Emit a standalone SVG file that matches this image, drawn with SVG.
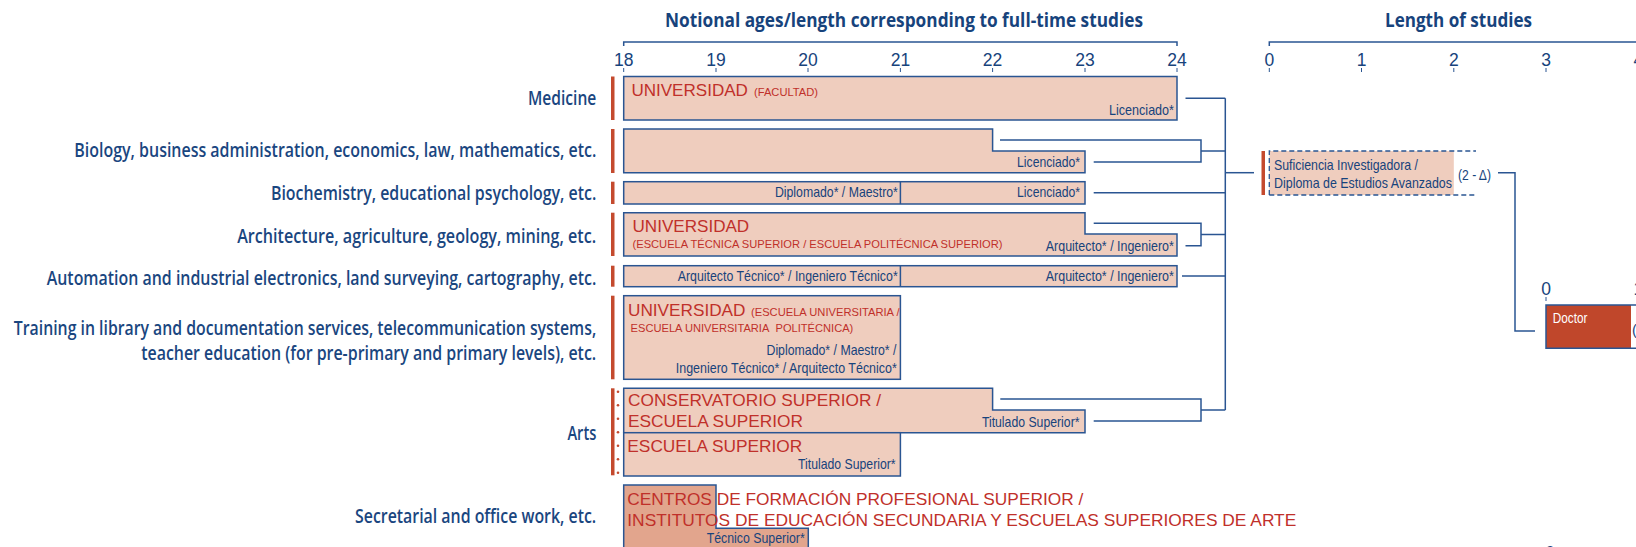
<svg xmlns="http://www.w3.org/2000/svg" width="1636" height="547" viewBox="0 0 1636 547">
<style>
.title{font-family:"Open Sans","Liberation Sans",sans-serif;font-weight:bold;font-size:19.5px;fill:#17437c}
.lbl{font-family:"Open Sans","Liberation Sans",sans-serif;font-weight:600;font-size:19px;fill:#1a4680}
.num{font-family:"Liberation Sans",Arial,sans-serif;font-size:17.5px;fill:#17437c;text-anchor:middle}
.red{font-family:"Liberation Sans",Arial,sans-serif;font-size:17.3px;fill:#c0302a}
.reds{font-family:"Liberation Sans",Arial,sans-serif;font-size:11px;fill:#c0302a}
.blu{font-family:"Liberation Sans Narrow","Liberation Sans",Arial,sans-serif;font-size:14.5px;fill:#17437c}
.box{fill:#efcdbe;stroke:#2a5592;stroke-width:1.5}
.dark{fill:#e2a58d;stroke:#2a5592;stroke-width:1.5}
.bar{fill:#c44a2e}
.ax{stroke:#2a5592;stroke-width:1.5;fill:none}
.tk{stroke:#2a5592;stroke-width:1;fill:none}
.con{stroke:#2a5592;stroke-width:1.5;fill:none}
.dot{fill:#c44a2e}
</style>

<g id="axes">
<text class="title" x="665" y="27" textLength="478" lengthAdjust="spacingAndGlyphs">Notional ages/length corresponding to full-time studies</text>
<path class="ax" d="M623.7,46 V42 H1177 V46"/>
<text class="num" x="623.7" y="66">18</text>
<text class="num" x="716" y="66">19</text>
<text class="num" x="808" y="66">20</text>
<text class="num" x="900.4" y="66">21</text>
<text class="num" x="992.6" y="66">22</text>
<text class="num" x="1085" y="66">23</text>
<text class="num" x="1177" y="66">24</text>
<path class="tk" d="M623.7,68 V72 M716,68 V72 M808,68 V72 M900.4,68 V72 M992.6,68 V72 M1085,68 V72 M1177,68 V72"/>
<text class="title" x="1385" y="27" textLength="147" lengthAdjust="spacingAndGlyphs">Length of studies</text>
<path class="ax" d="M1269.3,46 V42 H1640"/>
<text class="num" x="1269.3" y="66">0</text>
<text class="num" x="1361.5" y="66">1</text>
<text class="num" x="1453.8" y="66">2</text>
<text class="num" x="1546" y="66">3</text>
<text class="num" x="1638.3" y="66">4</text>
<path class="tk" d="M1269.3,68 V72 M1361.5,68 V72 M1453.8,68 V72 M1546,68 V72 M1638.3,68 V72"/>
<text class="num" x="1546" y="295">0</text>
<text class="num" x="1638.3" y="295">1</text>
<path class="tk" d="M1546,297 V301 M1638.3,297 V301"/>
<text class="num" x="1550" y="559">0</text>
<text class="num" x="1638.3" y="559">1</text>
</g>

<g id="left-labels">
<text class="lbl" x="527.9" y="105" textLength="68.4" lengthAdjust="spacingAndGlyphs">Medicine</text>
<text class="lbl" x="74.3" y="156.7" textLength="522" lengthAdjust="spacingAndGlyphs">Biology, business administration, economics, law, mathematics, etc.</text>
<text class="lbl" x="270.9" y="200" textLength="325.4" lengthAdjust="spacingAndGlyphs">Biochemistry, educational psychology, etc.</text>
<text class="lbl" x="237.2" y="242.7" textLength="359" lengthAdjust="spacingAndGlyphs">Architecture, agriculture, geology, mining, etc.</text>
<text class="lbl" x="46.7" y="285" textLength="549.6" lengthAdjust="spacingAndGlyphs">Automation and industrial electronics, land surveying, cartography, etc.</text>
<text class="lbl" x="13.8" y="335" textLength="582.4" lengthAdjust="spacingAndGlyphs">Training in library and documentation services, telecommunication systems,</text>
<text class="lbl" x="141.2" y="360" textLength="455" lengthAdjust="spacingAndGlyphs">teacher education (for pre-primary and primary levels), etc.</text>
<text class="lbl" x="567.4" y="440" textLength="28.9" lengthAdjust="spacingAndGlyphs">Arts</text>
<text class="lbl" x="355" y="523.3" textLength="241.2" lengthAdjust="spacingAndGlyphs">Secretarial and office work, etc.</text>
</g>

<g id="medicine">
<rect class="bar" x="611" y="76.5" width="3.5" height="43.5"/>
<rect class="box" x="623.7" y="76.5" width="553.3" height="43.5"/>
<text class="red" x="631.4" y="96" textLength="116.5" lengthAdjust="spacingAndGlyphs">UNIVERSIDAD</text>
<text class="reds" x="754" y="96" textLength="64" lengthAdjust="spacingAndGlyphs">(FACULTAD)</text>
<text class="blu" x="1109" y="115" textLength="65" lengthAdjust="spacingAndGlyphs">Licenciado*</text>
</g>

<g id="biology">
<rect class="bar" x="611" y="129" width="3.5" height="44"/>
<path class="box" d="M623.7,129 H992.6 V151 H1085 V172.7 H623.7 Z"/>
<text class="blu" x="1017.1" y="166.7" textLength="63" lengthAdjust="spacingAndGlyphs">Licenciado*</text>
</g>

<g id="biochemistry">
<rect class="bar" x="611" y="181.7" width="3.5" height="22.3"/>
<rect class="box" x="623.7" y="181.7" width="461.3" height="22.3"/>
<path class="tk" d="M900.4,181.7 V204" style="stroke-width:1.5"/>
<text class="blu" x="774.9" y="197.3" textLength="123" lengthAdjust="spacingAndGlyphs">Diplomado* / Maestro*</text>
<text class="blu" x="1017.1" y="197.3" textLength="63" lengthAdjust="spacingAndGlyphs">Licenciado*</text>
</g>

<g id="architecture">
<rect class="bar" x="611" y="212.7" width="3.5" height="43.3"/>
<path class="box" d="M623.7,212.7 H1085 V234 H1177 V256 H623.7 Z"/>
<text class="red" x="632.5" y="231.7" textLength="116.7" lengthAdjust="spacingAndGlyphs">UNIVERSIDAD</text>
<text class="reds" x="632.5" y="248.3" textLength="370" lengthAdjust="spacingAndGlyphs">(ESCUELA TÉCNICA SUPERIOR / ESCUELA POLITÉCNICA SUPERIOR)</text>
<text class="blu" x="1045.8" y="250.7" textLength="128" lengthAdjust="spacingAndGlyphs">Arquitecto* / Ingeniero*</text>
</g>

<g id="automation">
<rect class="bar" x="611" y="265.7" width="3.5" height="21"/>
<rect class="box" x="623.7" y="265.7" width="553.3" height="21"/>
<path class="tk" d="M900.4,265.7 V286.7" style="stroke-width:1.5"/>
<text class="blu" x="677.7" y="280.7" textLength="220" lengthAdjust="spacingAndGlyphs">Arquitecto Técnico* / Ingeniero Técnico*</text>
<text class="blu" x="1045.8" y="280.7" textLength="128" lengthAdjust="spacingAndGlyphs">Arquitecto* / Ingeniero*</text>
</g>

<g id="training">
<rect class="bar" x="611" y="295.7" width="3.5" height="83.6"/>
<rect class="box" x="623.7" y="295.7" width="276.7" height="83.6"/>
<text class="red" x="628" y="315.7" textLength="117.5" lengthAdjust="spacingAndGlyphs">UNIVERSIDAD</text>
<text class="reds" x="751" y="315.7" textLength="148.6" lengthAdjust="spacingAndGlyphs">(ESCUELA UNIVERSITARIA /</text>
<text class="reds" x="630.6" y="332.3" textLength="222.7" lengthAdjust="spacingAndGlyphs">ESCUELA UNIVERSITARIA&#160; POLITÉCNICA)</text>
<text class="blu" x="766.5" y="355" textLength="130" lengthAdjust="spacingAndGlyphs">Diplomado* / Maestro* /</text>
<text class="blu" x="675.8" y="372.7" textLength="221" lengthAdjust="spacingAndGlyphs">Ingeniero Técnico* / Arquitecto Técnico*</text>
</g>

<g id="arts">
<rect class="bar" x="611" y="388.3" width="3.5" height="87"/>
<circle class="dot" cx="618" cy="391.7" r="1.3"/>
<circle class="dot" cx="618" cy="405.2" r="1.3"/>
<circle class="dot" cx="618" cy="418.7" r="1.3"/>
<circle class="dot" cx="618" cy="432.2" r="1.3"/>
<circle class="dot" cx="618" cy="445.7" r="1.3"/>
<circle class="dot" cx="618" cy="459.2" r="1.3"/>
<circle class="dot" cx="618" cy="472.7" r="1.3"/>
</g>

<g id="conservatorio">
<path class="box" d="M623.7,388.3 H992.6 V410 H1085 V432.7 H623.7 Z"/>
<text class="red" x="628" y="406" textLength="253" lengthAdjust="spacingAndGlyphs">CONSERVATORIO SUPERIOR /</text>
<text class="red" x="628" y="426.7" textLength="175" lengthAdjust="spacingAndGlyphs">ESCUELA SUPERIOR</text>
<text class="blu" x="981.9" y="426.7" textLength="97.6" lengthAdjust="spacingAndGlyphs">Titulado Superior*</text>
</g>

<g id="escuela-superior">
<rect class="box" x="623.7" y="432.7" width="276.7" height="43.3"/>
<text class="red" x="627.3" y="451.7" textLength="175" lengthAdjust="spacingAndGlyphs">ESCUELA SUPERIOR</text>
<text class="blu" x="798" y="469.3" textLength="97.6" lengthAdjust="spacingAndGlyphs">Titulado Superior*</text>
</g>

<g id="secretarial">
<path class="dark" d="M623.7,560 V485 H716 V528.3 H808.3 V560"/>
<text class="red" x="627.3" y="505" textLength="456" lengthAdjust="spacingAndGlyphs">CENTROS DE FORMACIÓN PROFESIONAL SUPERIOR /</text>
<text class="red" x="627.3" y="526" textLength="669" lengthAdjust="spacingAndGlyphs">INSTITUTOS DE EDUCACIÓN SECUNDARIA Y ESCUELAS SUPERIORES DE ARTE</text>
<text class="blu" x="706.7" y="543.3" textLength="98" lengthAdjust="spacingAndGlyphs">Técnico Superior*</text>
</g>

<g id="suficiencia">
<rect class="bar" x="1261.5" y="151" width="3.5" height="44"/>
<rect x="1269.3" y="151" width="184.5" height="44" fill="#efcdbe"/>
<path d="M1269.3,195 V151 H1476 M1269.3,195 H1476" stroke="#2a5592" stroke-width="1.3" stroke-dasharray="5,3" fill="none"/>
<text class="blu" x="1274" y="170" textLength="144" lengthAdjust="spacingAndGlyphs">Suficiencia Investigadora /</text>
<text class="blu" x="1274" y="188.3" textLength="178" lengthAdjust="spacingAndGlyphs">Diploma de Estudios Avanzados</text>
<text class="blu" x="1458" y="180" textLength="33" lengthAdjust="spacingAndGlyphs">(2 - Δ)</text>
</g>

<g id="doctor">
<rect x="1546" y="305" width="85" height="43.3" fill="#c0472b"/>
<path d="M1640,305 H1546 V348.3 H1640" stroke="#2a5592" stroke-width="1.5" fill="none"/>
<text class="blu" x="1552.7" y="323.3" textLength="34.7" lengthAdjust="spacingAndGlyphs" style="fill:#ffffff">Doctor</text>
<text class="blu" x="1632" y="335">(</text>
</g>

<g id="connectors">
<path class="con" d="M1185.5,98.3 H1225.3"/>
<path class="con" d="M1000,140 H1201 V162 H1093.7 M1201,151 H1225.3"/>
<path class="con" d="M1093.7,192.7 H1225.3"/>
<path class="con" d="M1093.7,223.3 H1201 V245.7 H1185.5 M1201,234.5 H1225.3"/>
<path class="con" d="M1182,276 H1225.3"/>
<path class="con" d="M1000.3,399 H1201 V421 H1093.7 M1201,410 H1225.3"/>
<path class="con" d="M1225.3,98.3 V410"/>
<path class="con" d="M1225.3,172.7 H1254"/>
<path class="con" d="M1498,172.7 H1515 V331 H1535"/>
</g>
</svg>
